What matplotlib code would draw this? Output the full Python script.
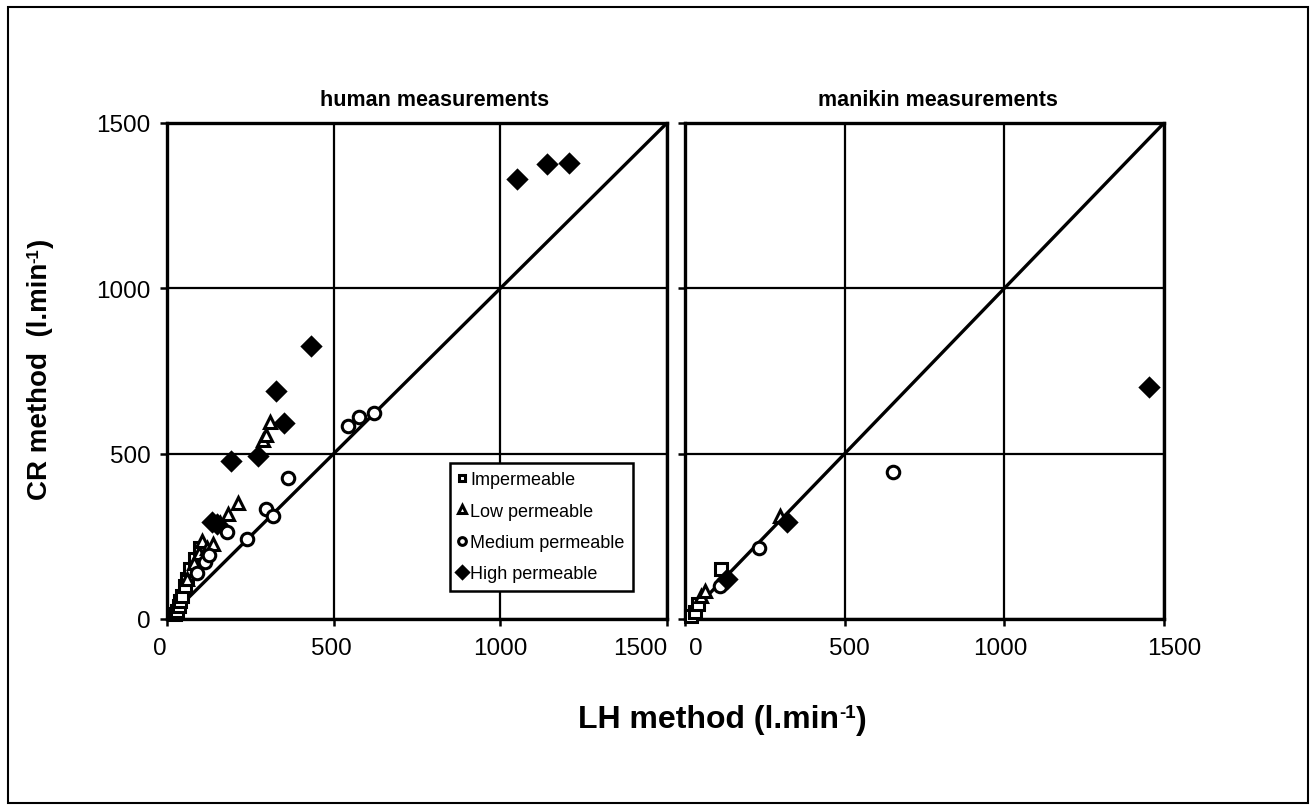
import matplotlib.pyplot as plt
from matplotlib.patches import Rectangle

plt.rcParams['font.family'] = ['Liberation Sans', 'DejaVu Sans']

# human measurements (LH method, CR method)
h_imp_x = [25, 30, 35, 40, 45, 55, 60, 70, 85, 100]
h_imp_y = [15, 25, 40, 55, 70, 100, 120, 150, 180, 215]
h_low_x = [60, 80, 95, 104, 120, 137, 160, 184, 212, 288, 298, 309]
h_low_y = [120, 170, 200, 237, 215, 227, 290, 318, 351, 540, 556, 597]
h_med_x = [90, 114, 125, 179, 239, 297, 319, 364, 544, 577, 622]
h_med_y = [140, 171, 195, 262, 242, 333, 311, 425, 585, 612, 622]
h_high_x = [134, 150, 191, 272, 327, 352, 431, 1050, 1140, 1205]
h_high_y = [292, 288, 479, 492, 689, 592, 825, 1330, 1375, 1380]

# manikin measurements
m_imp_x = [20, 31, 42, 112]
m_imp_y = [10, 21, 45, 150]
m_low_x = [50, 62, 297]
m_low_y = [70, 86, 312]
m_med_x = [110, 232, 652]
m_med_y = [101, 214, 444]
m_high_x = [131, 318, 1453]
m_high_y = [121, 292, 702]

diag = [0, 1500]
ticks = [0, 500, 1000, 1500]
tick_txt = ['0', '500', '1000', '1500']
labels = ['Impermeable', 'Low permeable', 'Medium permeable', 'High permeable']

fig = plt.figure(figsize=(13.16, 8.12), dpi=100)
fig.patches.append(Rectangle((8 / 1316, 8 / 812), 1300 / 1316, 796 / 812,
                             transform=fig.transFigure, fill=False,
                             edgecolor='black', linewidth=1.5))

ax1 = fig.add_axes([167 / 1316, 192 / 812, 500 / 1316, 496 / 812])
ax2 = fig.add_axes([685 / 1316, 192 / 812, 479 / 1316, 496 / 812])


def draw(ax, series, xoffs):
    ax.plot(diag, diag, color='black', lw=2.4, zorder=2)
    ax.set_xlim(0, 1500)
    ax.set_ylim(0, 1500)
    ax.set_xticks(ticks)
    ax.set_yticks(ticks)
    ax.set_xticklabels([])
    ax.grid(True, color='black', lw=1.6)
    ax.set_axisbelow(True)
    for s in ax.spines.values():
        s.set_linewidth(2.4)
    ax.tick_params(direction='out', length=5, width=1.8, labelsize=17.5, pad=7)
    # excel puts the x tick labels a little off the ticks
    for t, txt, dx in zip(ticks, tick_txt, xoffs):
        ax.annotate(txt, xy=(t, 0), xycoords=('data', 'axes fraction'),
                    xytext=(dx, -18), textcoords='offset pixels',
                    ha='center', va='top', fontsize=17.5, annotation_clip=False)
    styles = [('s', 'white', 8), ('^', 'white', 8.5), ('o', 'white', 9), ('D', 'black', 9.5)]
    for (x, y), (m, fc, ms), lab in zip(series, styles, labels):
        ax.plot(x, y, ls='none', marker=m, ms=ms, mfc=fc, mec='black', mew=2.2,
                clip_on=False, zorder=3, label=lab)


draw(ax1, [(h_imp_x, h_imp_y), (h_low_x, h_low_y), (h_med_x, h_med_y), (h_high_x, h_high_y)],
     [-7, -2, 0, -27])
draw(ax2, [(m_imp_x, m_imp_y), (m_low_x, m_low_y), (m_med_x, m_med_y), (m_high_x, m_high_y)],
     [11, 5, -4, 10])
ax2.set_yticklabels([])

fig.text(435 / 1316, 1 - 101 / 812, 'human measurements', ha='center', va='center',
         fontsize=15.5, fontweight='bold')
fig.text(938 / 1316, 1 - 101 / 812, 'manikin measurements', ha='center', va='center',
         fontsize=15.5, fontweight='bold')

leg = ax1.legend(loc='upper right', bbox_to_anchor=(0.932, 0.3145), borderaxespad=0,
                 fontsize=13, markerscale=0.62, handlelength=0.5, handletextpad=0.2,
                 labelspacing=0.8, borderpad=0.45, fancybox=False, framealpha=1)
leg.get_frame().set_edgecolor('black')
leg.get_frame().set_linewidth(1.8)

# axis titles with a small "-1" superscript
fb = 0.2
t1 = fig.text(578 / 1316, 1 - 728 / 812, 'LH method (l.min', ha='left', va='baseline',
              fontsize=23, fontweight='bold')
t2 = ax1.annotate('-1', xy=(1, fb + 0.36), xycoords=t1, ha='left', va='baseline',
                  fontsize=13.5, fontweight='bold', annotation_clip=False)
ax1.annotate(')', xy=(1, fb), xycoords=(t2, t1), ha='left', va='baseline',
             fontsize=23, fontweight='bold', annotation_clip=False)

v1 = fig.text(40 / 1316, 1 - 500 / 812, 'CR method  (l.min', rotation=90,
              ha='center', va='bottom', fontsize=20, fontweight='bold')
v2 = ax1.annotate('-1', xy=(1 - fb - 0.36, 1), xycoords=v1, rotation=90,
                  rotation_mode='anchor', ha='left', va='baseline',
                  fontsize=12, fontweight='bold', annotation_clip=False)
ax1.annotate(')', xy=(1 - fb, 1), xycoords=(v1, v2), rotation=90,
             rotation_mode='anchor', ha='left', va='baseline',
             fontsize=20, fontweight='bold', annotation_clip=False)

fig.savefig('out.png', dpi=100)
